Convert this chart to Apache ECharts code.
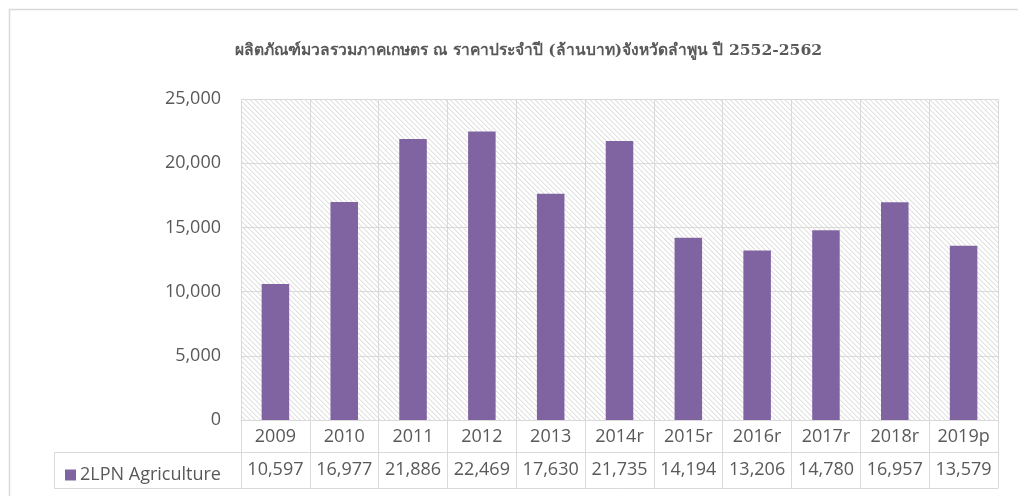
<!DOCTYPE html>
<html>
<head>
<meta charset="utf-8">
<script src="https://cdn.jsdelivr.net/npm/echarts@6/dist/echarts.min.js"></script>
<style>
    html, body { margin: 0; padding: 0; background: #fff; }
    #chart { width: 1018px; height: 496px; }
</style>
</head>
<body>
<div id="chart"></div>
<script>
const TITLE = "ผลิตภัณฑ์มวลรวมภาคเกษตร ณ ราคาประจำปี (ล้านบาท)จังหวัดลำพูน ปี 2552-2562"
const YEARS = ["2009", "2010", "2011", "2012", "2013", "2014r", "2015r", "2016r", "2017r", "2018r", "2019p"]
const AGRI = [10597, 16977, 21886, 22469, 17630, 21735, 14194, 13206, 14780, 16957, 13579]
const SERIES_NAME = "2LPN Agriculture"
const Y_TICKS = [0, 5000, 10000, 15000, 20000, 25000]

const FONT = "'Open Sans', 'Noto Sans', sans-serif"
const TEXT = "#595959"
const LINE = "#d9d9d9"

// ลายเส้นทแยงพื้นหลัง plot area
function hatch() {
    const n = 5
    const c = document.createElement("canvas")
    c.width = n
    c.height = n
    const ctx = c.getContext("2d")
    ctx.fillStyle = "#fff"
    ctx.fillRect(0, 0, n, n)
    for (let y = 0; y < n; y++) {
        ctx.fillStyle = "#e2e2e2"
        ctx.fillRect(y % n, y, 1, 1)
        ctx.fillStyle = "#f0f0f0"
        ctx.fillRect((y + 1) % n, y, 1, 1)
    }
    return c
}

const fmt = v => v.toLocaleString("en-US")

const myChart = echarts.init(document.getElementById("chart"))
myChart.setOption({
    backgroundColor: "#fff",
    animation: false,
    title: {
        text: TITLE,
        left: 230,
        top: 38,
        textStyle: {
            fontFamily: "'DejaVu Serif', serif",
            fontWeight: "bold",
            fontSize: 15.6,
            color: TEXT,
        },
    },
    legend: {
        left: 60,
        top: 461,
        itemWidth: 11,
        itemHeight: 11,
        itemGap: 4,
        icon: "rect",
        data: [SERIES_NAME],
        textStyle: { fontFamily: FONT, fontSize: 18, color: TEXT, padding: [0, 0, 0, -1] },
    },
    grid: {
        left: 241,
        right: 20,
        top: 99,
        bottom: 76,
        show: true,
        borderWidth: 0,
        backgroundColor: { image: hatch(), repeat: "repeat" },
    },
    xAxis: [
        {
            type: "category",
            data: YEARS,
            position: "bottom",
            axisLine: { show: true, lineStyle: { color: LINE, width: 1 } },
            axisTick: { show: true, interval: 0, length: 68, lineStyle: { color: LINE, width: 1 } },
            splitLine: { show: true, interval: 0, lineStyle: { color: LINE, width: 1 } },
            axisLabel: { interval: 0, margin: 8, fontFamily: FONT, fontSize: 18, color: TEXT },
        },
        {
            type: "category",
            data: YEARS,
            position: "bottom",
            offset: 32,
            axisLine: { show: true, lineStyle: { color: LINE, width: 1 } },
            axisTick: { show: false },
            axisLabel: {
                interval: 0,
                margin: 9,
                fontFamily: FONT,
                fontSize: 18,
                color: TEXT,
                formatter: (v, i) => fmt(AGRI[i]),
            },
        },
        {
            type: "category",
            data: YEARS,
            position: "bottom",
            offset: 68,
            axisLine: { show: true, lineStyle: { color: LINE, width: 1 } },
            axisTick: { show: false },
            axisLabel: { show: false },
        },
    ],
    yAxis: {
        type: "value",
        min: Y_TICKS[0],
        max: Y_TICKS[Y_TICKS.length - 1],
        interval: 5000,
        axisLine: { show: true, lineStyle: { color: LINE } },
        axisTick: { show: false },
        splitLine: { show: true, lineStyle: { color: LINE, width: 1 } },
        axisLabel: { margin: 20, fontFamily: FONT, fontSize: 18, color: TEXT, formatter: v => fmt(v) },
    },
    graphic: [
        {
            type: "rect",
            shape: { x: 9.5, y: 9.5, width: 1030, height: 520 },
            style: { fill: null, stroke: LINE, lineWidth: 1.5 },
            silent: true,
        },
        {
            type: "polyline",
            shape: { points: [[241, 452.5], [54.5, 452.5], [54.5, 488.5], [241, 488.5]] },
            style: { fill: null, stroke: LINE, lineWidth: 1 },
            silent: true,
        },
    ],
    series: [
        {
            name: SERIES_NAME,
            type: "bar",
            xAxisIndex: 0,
            data: AGRI,
            barWidth: "40%",
            itemStyle: { color: "#8064a2" },
        },
    ],
})
window.addEventListener("resize", function () {
    myChart.resize()
})
</script>
</body>
</html>
